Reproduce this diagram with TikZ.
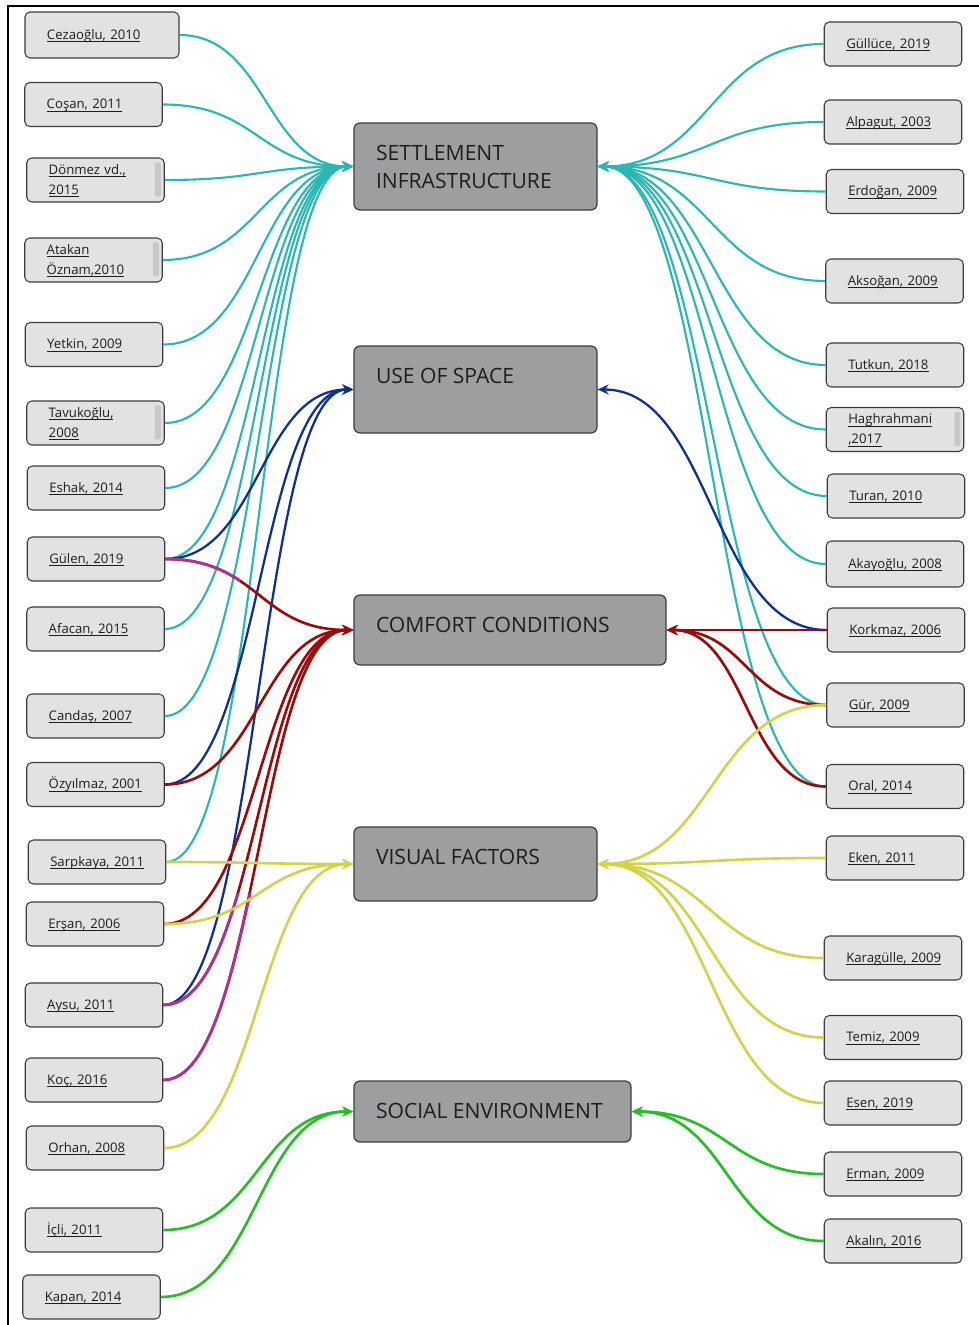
\documentclass[tikz,border=0pt]{standalone}
\usepackage{fontspec}
\setmainfont{Open Sans}
\usetikzlibrary{arrows.meta, calc}

\definecolor{linkteal}{RGB}{38,184,178}
\definecolor{linkblue}{RGB}{14,48,150}
\definecolor{linkred}{RGB}{160,8,8}
\definecolor{linkyellow}{RGB}{212,210,72}
\definecolor{linkgreen}{RGB}{34,192,34}
\definecolor{linkmagenta}{RGB}{176,48,150}
\definecolor{topicgray}{RGB}{156,158,160}
\definecolor{boxgray}{RGB}{226,226,226}
\definecolor{edgegray}{RGB}{60,60,60}
\definecolor{scrollgray}{RGB}{200,200,200}
\definecolor{textdark}{RGB}{30,30,30}

\newcommand{\undl}[1]{\leavevmode\setbox0=\hbox{$\underline{\vphantom{A}\smash{\hbox{#1}}}$}\dp0=0pt\box0}
\newcommand{\scrollbar}[1]{\fill[scrollgray, rounded corners=0.4mm] ([xshift=-2mm,yshift=-1mm]#1.north east) rectangle ([xshift=-0.8mm,yshift=1.2mm]#1.south east);}

\tikzset{
  link/.style={to path={(\tikztostart) .. controls ($(\tikztostart)!0.5!(\tikztotarget |- \tikztostart)$) and ($(\tikztotarget)!0.5!(\tikztostart |- \tikztotarget)$) .. (\tikztotarget)}},
  ref/.style={draw=edgegray, fill=boxgray, rounded corners=1mm, line width=0.6pt, text width=18.7mm, align=left, inner xsep=4.4mm, inner ysep=0.4mm, minimum height=8.8mm, font=\fontsize{7.5}{11.5}\selectfont, text=textdark},
  topic/.style={draw=edgegray, fill=topicgray, rounded corners=1.2mm, line width=0.7pt, inner sep=4.4mm, font=\fontsize{12}{16}\selectfont, text=textdark},
}

\begin{document}
\begin{tikzpicture}[x=0.2mm, y=-0.2mm]
\useasboundingbox (0,0) rectangle (979,1325);
\draw[line width=0.6pt] (8,1325) -- (8,6) -- (979,6);

\begin{scope}[every node/.style={topic}]
    \node (settle) at (475.5,166.5) {\parbox[c][8.6mm][t]{39.8mm}{\mbox{SETTLEMENT}\\\mbox{INFRASTRUCTURE}}};
    \node (space) at (475.5,389.5) {\parbox[c][8.6mm][t]{39.8mm}{\mbox{USE OF SPACE}}};
    \node (comfort) at (510,630) {\parbox[c][5.2mm][t]{53.6mm}{\mbox{COMFORT CONDITIONS}}};
    \node (visual) at (475.5,864) {\parbox[c][6mm][t]{39.8mm}{\mbox{VISUAL FACTORS}}};
    \node (social) at (492.5,1111.5) {\parbox[c][3.4mm][t]{46.6mm}{\mbox{SOCIAL ENVIRONMENT}}};
\end{scope}

\begin{scope}[every node/.style={ref}]
    \node (l1) at (102,35) [text width=22mm, minimum height=9.2mm] {\undl{Cezaoğlu, 2010}};
    \node (l2) at (93.5,104.5) {\undl{Coşan, 2011}};
    \node (l3) at (95.5,180) {\undl{Dönmez vd.,}\\\undl{2015}};
    \node (l4) at (93.5,260) {\undl{Atakan}\\\undl{Öznam,2010}};
    \node (l5) at (94,344.5) {\undl{Yetkin, 2009}};
    \node (l6) at (95.5,423) {\undl{Tavukoğlu,}\\\undl{2008}};
    \node (l7) at (96,488) {\undl{Eshak, 2014}};
    \node (l8) at (96,559) {\undl{Gülen, 2019}};
    \node (l9) at (95.5,629) {\undl{Afacan, 2015}};
    \node (l10) at (95.5,716) {\undl{Candaş, 2007}};
    \node (l11) at (95.5,784.5) {\undl{Özyılmaz, 2001}};
    \node (l12) at (97,862) {\undl{Sarpkaya, 2011}};
    \node (l13) at (95,924) {\undl{Erşan, 2006}};
    \node (l14) at (94,1005) {\undl{Aysu, 2011}};
    \node (l15) at (94,1080) {\undl{Koç, 2016}};
    \node (l16) at (95,1148) {\undl{Orhan, 2008}};
    \node (l17) at (94,1230) {\undl{İçli, 2011}};
    \node (l18) at (91.5,1297) {\undl{Kapan, 2014}};

    \node (r1) at (893,44) {\undl{Güllüce, 2019}};
    \node (r2) at (893,122) {\undl{Alpagut, 2003}};
    \node (r3) at (895,191.5) {\undl{Erdoğan, 2009}};
    \node (r4) at (894.5,281) {\undl{Aksoğan, 2009}};
    \node (r5) at (895,365) {\undl{Tutkun, 2018}};
    \node (r6) at (895,429.5) {\undl{Haghrahmani}\\\undl{,2017}};
    \node (r7) at (896,496) {\undl{Turan, 2010}};
    \node (r8) at (895,564) [minimum height=9.2mm] {\undl{Akayoğlu, 2008}};
    \node (r9) at (896,630) {\undl{Korkmaz, 2006}};
    \node (r10) at (895.5,705) {\undl{Gür, 2009}};
    \node (r11) at (895,786.5) {\undl{Oral, 2014}};
    \node (r12) at (895,858) {\undl{Eken, 2011}};
    \node (r13) at (893,958) {\undl{Karagülle, 2009}};
    \node (r14) at (893,1037.5) {\undl{Temiz, 2009}};
    \node (r15) at (893,1103) {\undl{Esen, 2019}};
    \node (r16) at (893,1174) {\undl{Erman, 2009}};
    \node (r17) at (893,1241) {\undl{Akalın, 2016}};
\end{scope}

\scrollbar{l3}
\scrollbar{l4}
\scrollbar{l6}
\scrollbar{r6}

\begin{scope}[>={Stealth[length=2.2mm,width=2mm]},
              every edge/.style={draw=linkteal,line width=1.2pt,link}]
    \path [->] (l1.east) edge (settle.west);
    \path [->] (l2.east) edge (settle.west);
    \path [->] (l3.east) edge (settle.west);
    \path [->] (l4.east) edge (settle.west);
    \path [->] (l5.east) edge (settle.west);
    \path [->] (l6.east) edge (settle.west);
    \path [->] (l7.east) edge (settle.west);
    \path [->] (l8.east) edge (settle.west);
    \path [->] (l9.east) edge (settle.west);
    \path [->] (l10.east) edge (settle.west);
    \path [->] (l12.east) edge (settle.west);
    \path [->] (r1.west) edge (settle.east);
    \path [->] (r2.west) edge (settle.east);
    \path [->] (r3.west) edge (settle.east);
    \path [->] (r4.west) edge (settle.east);
    \path [->] (r5.west) edge (settle.east);
    \path [->] (r6.west) edge (settle.east);
    \path [->] (r7.west) edge (settle.east);
    \path [->] (r8.west) edge (settle.east);
    \path [->] (r10.west) edge (settle.east);
    \path [->] (r11.west) edge (settle.east);
\end{scope}

\begin{scope}[>={Stealth[length=2.2mm,width=2mm]},
              every edge/.style={draw=linkblue,line width=1.3pt,link}]
    \path [->] (l8.east) edge (space.west);
    \path [->] (l11.east) edge (space.west);
    \path [->] (l14.east) edge (space.west);
    \path [->] (r9.west) edge (space.east);
\end{scope}

\begin{scope}[>={Stealth[length=2.2mm,width=2mm]},
              every edge/.style={draw=linkred,line width=1.5pt,link}]
    \path [->] (l8.east) edge (comfort.west);
    \path [->] (l11.east) edge (comfort.west);
    \path [->] (l13.east) edge (comfort.west);
    \path [->] (l14.east) edge (comfort.west);
    \path [->] (l15.east) edge (comfort.west);
    \path [->] (r9.west) edge (comfort.east);
    \path [->] (r10.west) edge (comfort.east);
    \path [->] (r11.west) edge (comfort.east);
\end{scope}

% magenta start of some comfort links
\begin{scope}[every edge/.style={draw=linkmagenta,line width=1.5pt,link}]
    \begin{scope}
        \clip (0,540) rectangle (240,600);
        \path (l8.east) edge (comfort.west);
    \end{scope}
    \begin{scope}
        \clip (0,893) rectangle (350,1325);
        \path (l14.east) edge (comfort.west);
        \path (l15.east) edge (comfort.west);
    \end{scope}
\end{scope}

\begin{scope}[>={Stealth[length=2.2mm,width=2mm]},
              every edge/.style={draw=linkyellow,line width=1.5pt,link}]
    \path [->] (l12.east) edge (visual.west);
    \path [->] (l13.east) edge (visual.west);
    \path [->] (l16.east) edge (visual.west);
    \path [->] (r10.west) edge (visual.east);
    \path [->] (r12.west) edge (visual.east);
    \path [->] (r13.west) edge (visual.east);
    \path [->] (r14.west) edge (visual.east);
    \path [->] (r15.west) edge (visual.east);
\end{scope}

\begin{scope}[>={Stealth[length=2.2mm,width=2mm]},
              every edge/.style={draw=linkgreen,line width=1.5pt,link}]
    \path [->] (l17.east) edge (social.west);
    \path [->] (l18.east) edge (social.west);
    \path [->] (r16.west) edge (social.east);
    \path [->] (r17.west) edge (social.east);
\end{scope}
\end{tikzpicture}
\end{document}
